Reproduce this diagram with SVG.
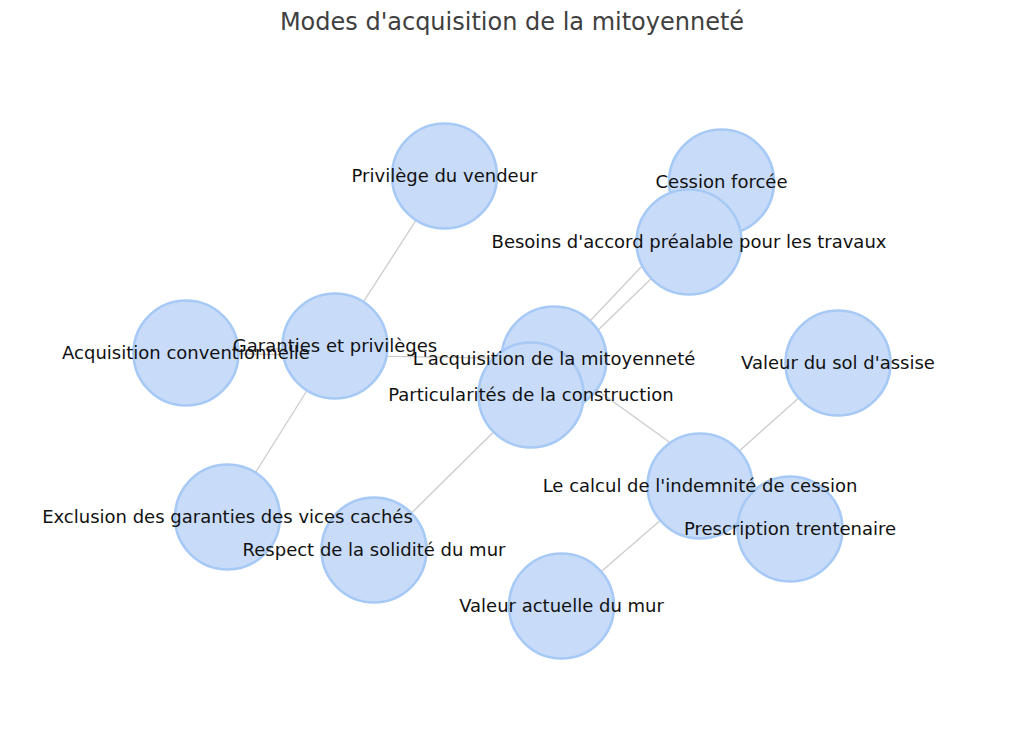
<svg xmlns="http://www.w3.org/2000/svg" width="1024" height="735" viewBox="0 0 1024 735">
<style>
.edge{stroke:#cccccc;stroke-width:1.3;fill:none}
.node circle{fill:#c8dbf8;stroke:#a6c9f6;stroke-width:2.6}
.lbl{font-family:"DejaVu Sans",sans-serif;font-size:18px;fill:#111111;text-anchor:middle}
.title{font-family:"DejaVu Sans",sans-serif;font-size:24px;fill:#404040;text-anchor:middle}
</style>
<rect width="1024" height="735" fill="#ffffff"/>
<text class="title" x="512" y="30">Modes d'acquisition de la mitoyenneté</text>
<g id="connectors">
<line class="edge" x1="335" y1="346" x2="444.5" y2="176"/>
<line class="edge" x1="335" y1="346" x2="227.5" y2="517"/>
<line class="edge" x1="186" y1="353" x2="335" y2="346"/>
<line class="edge" x1="186" y1="353" x2="554" y2="359"/>
<line class="edge" x1="554" y1="359" x2="721.5" y2="182"/>
<line class="edge" x1="531" y1="395" x2="689" y2="242"/>
<line class="edge" x1="554" y1="359" x2="531" y2="395"/>
<line class="edge" x1="531" y1="395" x2="374" y2="550"/>
<line class="edge" x1="554" y1="359" x2="790" y2="529"/>
<line class="edge" x1="700" y1="486" x2="790" y2="529"/>
<line class="edge" x1="700" y1="486" x2="838" y2="363"/>
<line class="edge" x1="700" y1="486" x2="561.5" y2="606"/>
</g>
<g id="n-privilege" class="node"><circle cx="444.5" cy="176" r="52.5"/></g>
<g id="n-cession" class="node"><circle cx="721.5" cy="182" r="52.5"/></g>
<g id="n-besoins" class="node"><circle cx="689" cy="242" r="52.5"/></g>
<g id="n-acqconv" class="node"><circle cx="186" cy="353" r="52.5"/></g>
<g id="n-garanties" class="node"><circle cx="335" cy="346" r="52.5"/></g>
<g id="n-acquisition" class="node"><circle cx="554" cy="359" r="52.5"/></g>
<g id="n-particularites" class="node"><circle cx="531" cy="395" r="52.5"/></g>
<g id="n-valsol" class="node"><circle cx="838" cy="363" r="52.5"/></g>
<g id="n-calcul" class="node"><circle cx="700" cy="486" r="52.5"/></g>
<g id="n-prescription" class="node"><circle cx="790" cy="529" r="52.5"/></g>
<g id="n-exclusion" class="node"><circle cx="227.5" cy="517" r="52.5"/></g>
<g id="n-respect" class="node"><circle cx="374" cy="550" r="52.5"/></g>
<g id="n-valmur" class="node"><circle cx="561.5" cy="606" r="52.5"/></g>
<g id="labels">
<text class="lbl" x="444.5" y="182">Privilège du vendeur</text>
<text class="lbl" x="721.5" y="188">Cession forcée</text>
<text class="lbl" x="689" y="248">Besoins d'accord préalable pour les travaux</text>
<text class="lbl" x="186" y="359">Acquisition conventionnelle</text>
<text class="lbl" x="335" y="352">Garanties et privilèges</text>
<text class="lbl" x="554" y="365">L'acquisition de la mitoyenneté</text>
<text class="lbl" x="531" y="401">Particularités de la construction</text>
<text class="lbl" x="838" y="369">Valeur du sol d'assise</text>
<text class="lbl" x="700" y="492">Le calcul de l'indemnité de cession</text>
<text class="lbl" x="790" y="535">Prescription trentenaire</text>
<text class="lbl" x="227.5" y="523">Exclusion des garanties des vices cachés</text>
<text class="lbl" x="374" y="556">Respect de la solidité du mur</text>
<text class="lbl" x="561.5" y="612">Valeur actuelle du mur</text>
</g>
</svg>
